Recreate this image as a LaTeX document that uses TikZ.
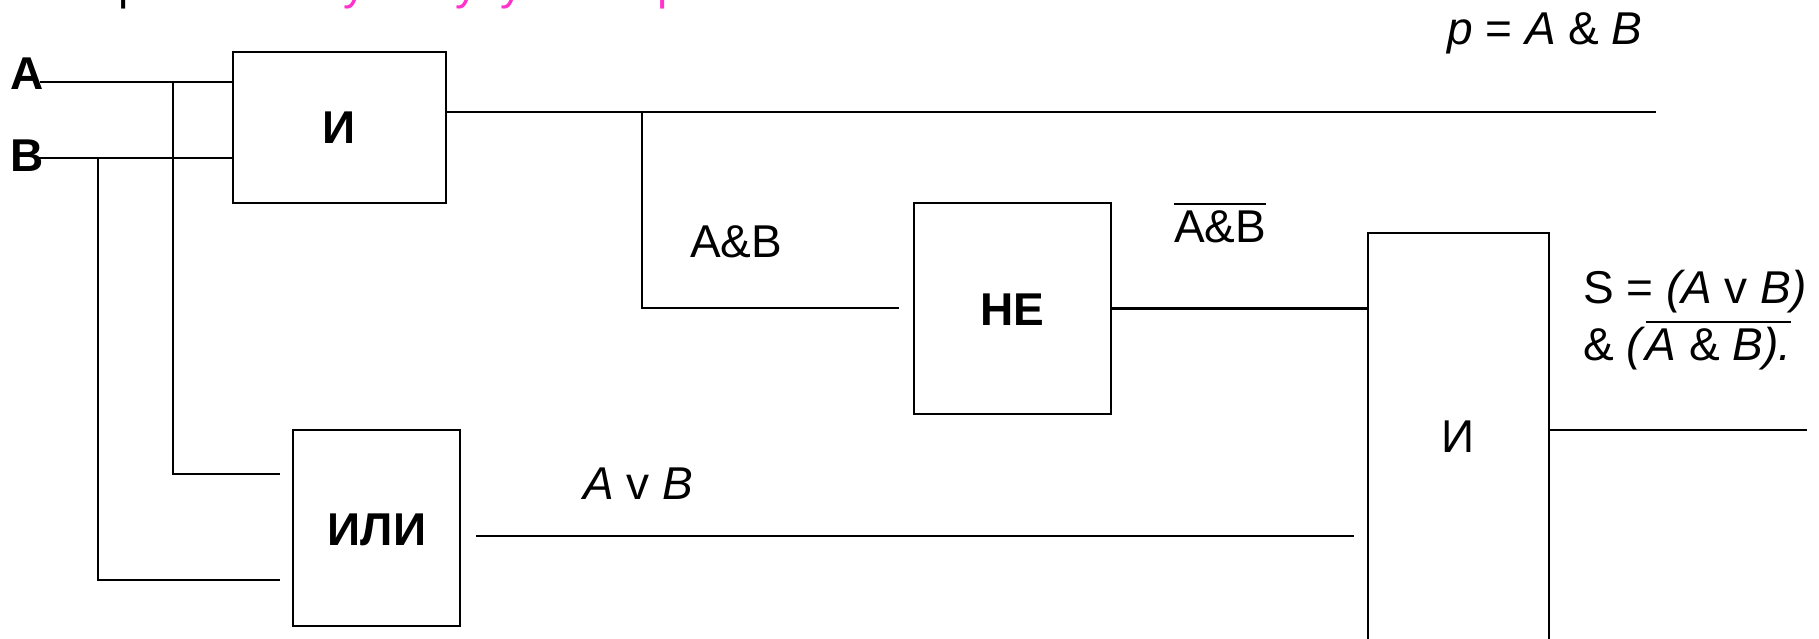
\documentclass[tikz,border=0pt]{standalone}
\usepackage{fontspec}
\setmainfont{Liberation Sans}
\usetikzlibrary{calc}
\definecolor{pinkc}{RGB}{255,51,204}
\newcommand{\myover}[1]{\setbox0\hbox{#1}\rlap{\raisebox{37pt}{\rule{\wd0}{2.2pt}}}\box0}
\begin{document}
\begin{tikzpicture}[x=1pt,y=-1pt,
  wire/.style={line width=2.9pt,line cap=rect},
  gate/.style={draw,line width=2.9pt,inner sep=0pt,outer sep=0pt},
  lbl/.style={inner sep=0pt,outer sep=0pt,anchor=base west,font=\fontsize{46pt}{57pt}\selectfont},
  gtxt/.style={inner sep=0pt,outer sep=0pt,font=\fontsize{46pt}{57pt}\selectfont}]
\useasboundingbox (0,0) rectangle (1819,639);
% title (cut off at top)
\node[lbl] (title) at (16,0) {Построим \textcolor{pinkc}{схему полусумматора}};
% gates
\node[gate,minimum width=213pt,minimum height=151pt] (and1) at (339.5,127.5) {};
\node[gtxt] (and1t) at (and1) {\bfseries И};
\node[gate,minimum width=167pt,minimum height=196pt] (or1) at (376.5,528) {};
\node[gtxt] (or1t) at (377,530) {\bfseries ИЛИ};
\node[gate,minimum width=197pt,minimum height=211pt] (not1) at (1012.5,308.5) {};
\node[gtxt] (not1t) at (1012,310) {\bfseries НЕ};
\node[gate,minimum width=181pt,minimum height=480pt] (and2) at (1458.5,473) {};
\node[gtxt] (and2t) at (1458,437) {И};
% input labels
\node[lbl] (la) at (10,90) {\bfseries A};
\node[lbl] (lb) at (10,172) {\bfseries B};
% coordinates
\coordinate (a0) at (41,82);
\coordinate (b0) at (40,158);
\coordinate (jA) at (173,82);
\coordinate (jB) at (98,158);
\coordinate (orIn1) at (279,474);
\coordinate (orIn2) at (279,580);
\coordinate (o1) at (446,112);
\coordinate (pEnd) at (1655,112);
\coordinate (jC) at (642,112);
\coordinate (notIn) at (898,308);
\coordinate (orOut) at (477,536);
\coordinate (orEnd) at (1353,536);
\coordinate (sOut) at (1549,430);
\coordinate (sEnd) at (1806,430);
% wires
\draw[wire] (a0) -- (a0 -| and1.west);
\draw[wire] (b0) -- (b0 -| and1.west);
\draw[wire] (jA) |- (orIn1);
\draw[wire] (jB) |- (orIn2);
\draw[wire] (o1) -- (pEnd);
\draw[wire] (jC) |- (notIn);
\draw[wire] (not1.east) -- (not1.east -| and2.west);
\draw[wire] (orOut) -- (orEnd);
\draw[wire] (sOut) -- (sEnd);
% labels
\node[lbl] (lab) at (690,257) {A\&B};
\node[lbl] (lnab) at (1174,242) {\myover{A\&B}};
\node[lbl] (lavb) at (583,499) {\textit{A} v \textit{B}};
\node[lbl] (lp) at (1447,45) {\textit{p} = \textit{A} \& \textit{B}};
\node[lbl] (ls1) at (1583,303) {S = \textit{(A} v \textit{B)}};
\node[lbl] (ls2) at (1583,360) {\& \textit{(}\myover{\textit{A} \& \textit{B).}}};
\end{tikzpicture}
\end{document}
